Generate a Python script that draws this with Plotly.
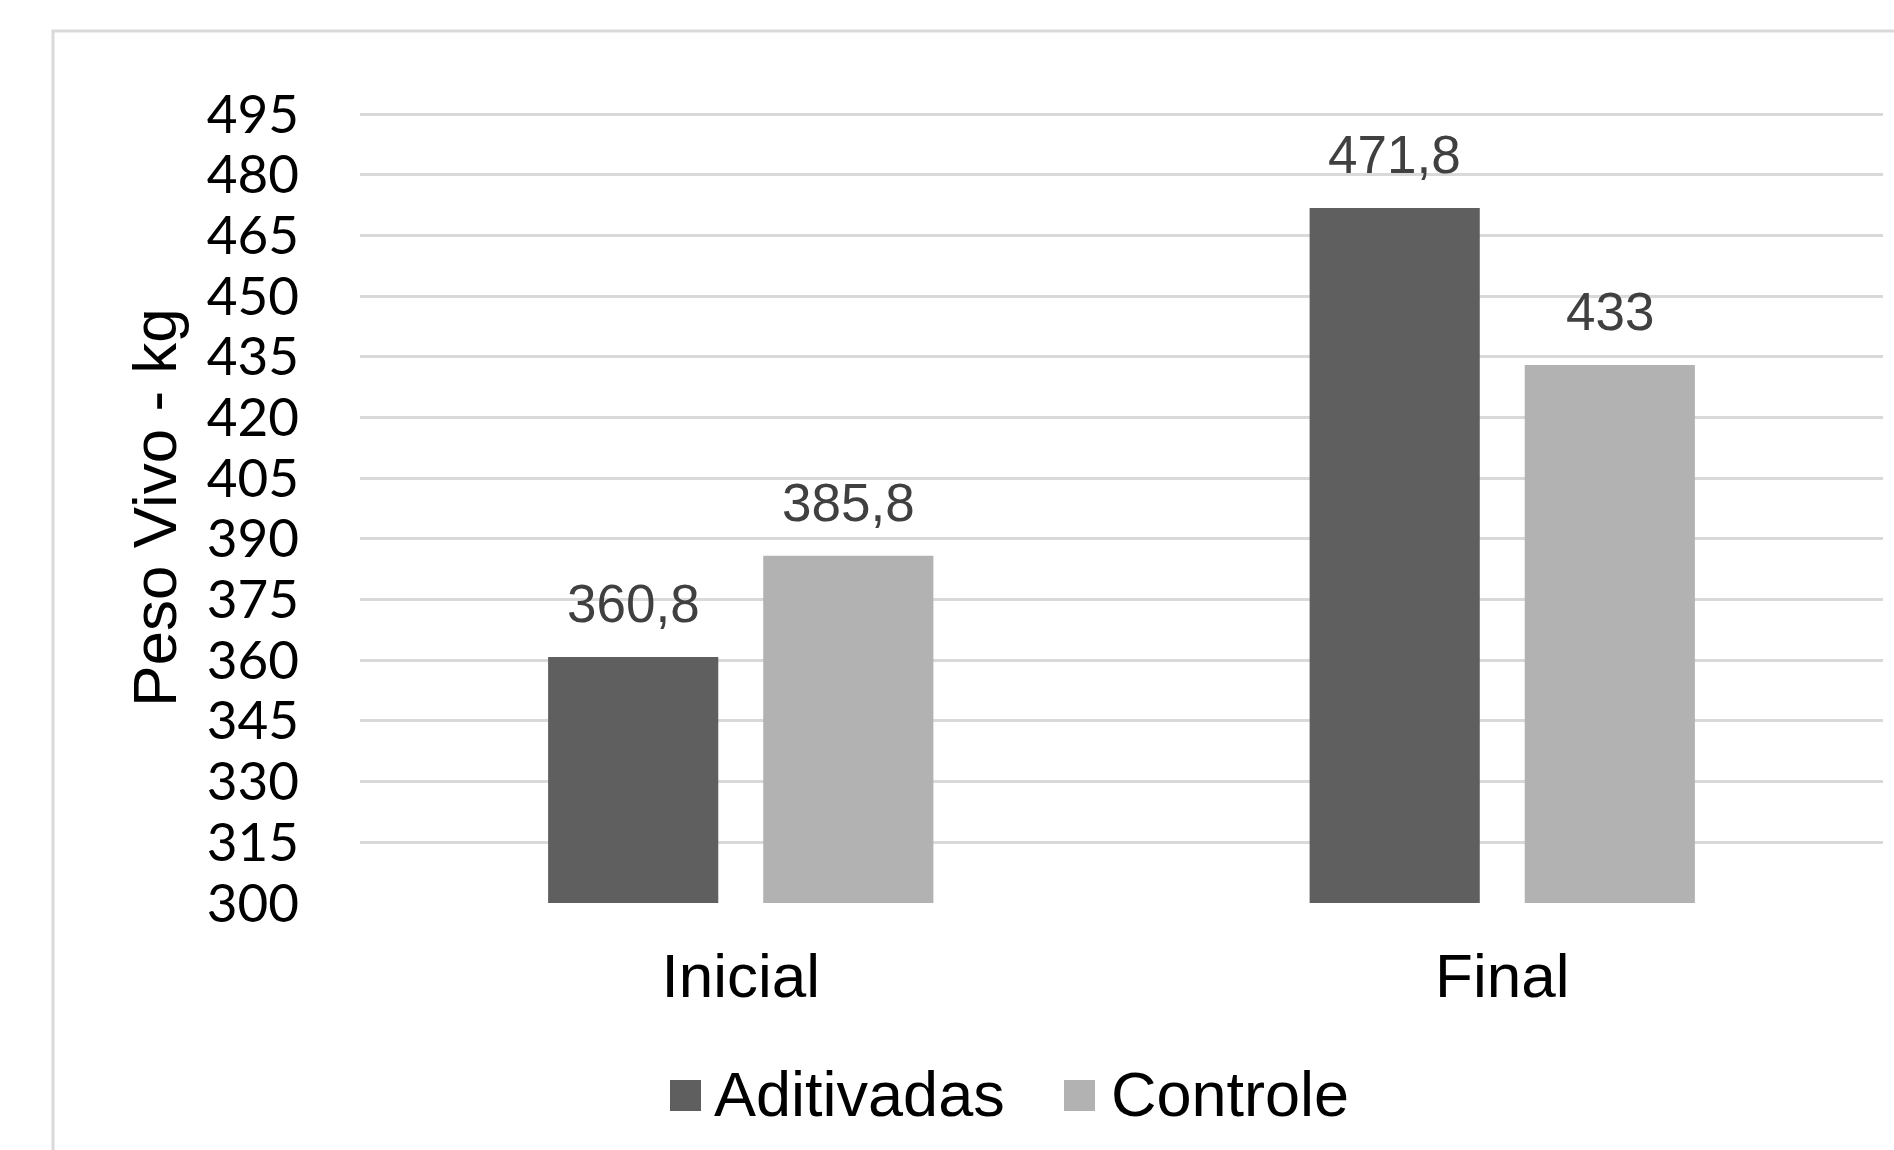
import plotly.graph_objects as go

# Live weight by period and treatment
periods = ["Inicial", "Final"]
series_names = ["Aditivadas", "Controle"]
aditivadas = [360.8, 471.8]
controle = [385.8, 433]
value_labels = [["360,8", "471,8"], ["385,8", "433"]]
y_ticks = list(range(300, 496, 15))

colors = ["#5f5f5f", "#b2b2b2"]
BARGAP = 0.435
BARGROUPGAP = 0.209

W, H = 1894, 1150
ML, MR, MT, MB = 360, 11, 112, 247
plot_w = W - ML - MR
plot_h = H - MT - MB


def px_to_paper_x(px):
    return (px - ML) / plot_w


def px_to_paper_y(py):
    return (H - MB - py) / plot_h


fig = go.Figure()
for name, vals, col in zip(series_names, [aditivadas, controle], colors):
    fig.add_trace(go.Bar(
        name=name, x=periods, y=vals, showlegend=False,
        marker=dict(color=col, line=dict(width=0)),
    ))

# value labels above each bar
slot = (1 - BARGAP) / 2
for s, vals in enumerate([aditivadas, controle]):
    offset = (s - 0.5) * slot
    for i, v in enumerate(vals):
        fig.add_annotation(
            x=i + offset, y=v, xref="x", yref="y",
            text=value_labels[s][i], showarrow=False,
            yanchor="bottom", yshift=22,
            font=dict(family="Liberation Sans, Arial", size=53, color="#404040"),
        )

# legend: colour swatch + series name, centred under the chart
legend_items = [(670, 715), (1064, 1112)]
for (sq_x, txt_x), name, col in zip(legend_items, series_names, colors):
    fig.add_shape(
        type="rect", xref="paper", yref="paper",
        x0=px_to_paper_x(sq_x), x1=px_to_paper_x(sq_x + 31),
        y0=px_to_paper_y(1111), y1=px_to_paper_y(1080),
        line=dict(width=0), fillcolor=col,
    )
    fig.add_annotation(
        x=px_to_paper_x(txt_x), y=px_to_paper_y(1094), xref="paper", yref="paper",
        text=name, showarrow=False, xanchor="left", yanchor="middle",
        xshift=-3,
        font=dict(family="Liberation Sans, Arial", size=63, color="#000000"),
    )

# chart-area frame
fig.add_shape(
    type="rect", xref="paper", yref="paper",
    x0=px_to_paper_x(53), x1=px_to_paper_x(W + 20),
    y0=px_to_paper_y(H + 20), y1=px_to_paper_y(31),
    line=dict(color="#d9d9d9", width=3), fillcolor="rgba(0,0,0,0)",
    layer="below",
)

fig.update_layout(
    width=W, height=H,
    margin=dict(l=ML, r=MR, t=MT, b=MB, autoexpand=False),
    paper_bgcolor="white", plot_bgcolor="white",
    barmode="group", bargap=BARGAP, bargroupgap=BARGROUPGAP,
    showlegend=False,
    xaxis=dict(
        type="category", showgrid=False, zeroline=False, showline=False,
        ticks="", ticklabelstandoff=31,
        tickfont=dict(family="Liberation Sans, Arial", size=62, color="#000000"),
    ),
    yaxis=dict(
        range=[300, 495.5], tickvals=y_ticks, ticktext=[str(t) for t in y_ticks],
        showgrid=True, gridcolor="#d9d9d9", gridwidth=3,
        zeroline=False, showline=False, ticks="",
        ticklabelstandoff=60,
        tickfont=dict(family="Lato", size=53, color="#000000"),
        title=dict(text="Peso Vivo - kg", standoff=10,
                   font=dict(family="Liberation Sans, Arial", size=62, color="#000000")),
    ),
)

fig.write_html("out.html")
